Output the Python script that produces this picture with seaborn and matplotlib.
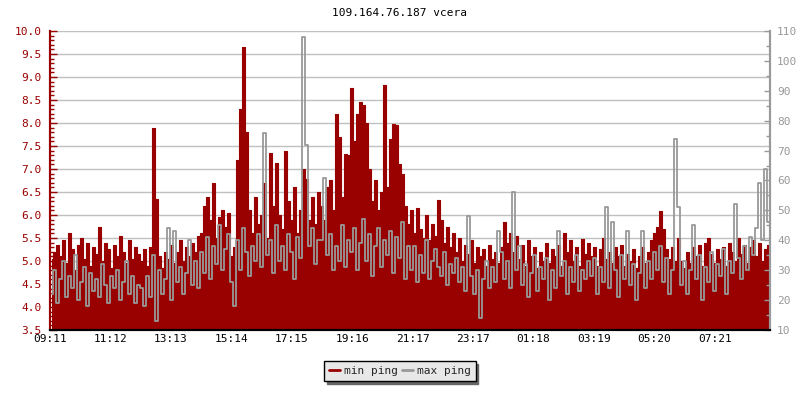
import numpy as np
import pandas as pd
import matplotlib
matplotlib.use("Agg")
import matplotlib.pyplot as plt
from matplotlib.lines import Line2D
from matplotlib.ticker import MultipleLocator, FormatStrFormatter
import seaborn as sns

title = "109.164.76.187 vcera"
start_label = "09:11"
sample_minutes = 6
tick_labels = ["09:11", "11:12", "13:13", "15:14", "17:15", "19:16",
               "21:17", "23:17", "01:18", "03:19", "05:20", "07:21"]

# min ping (left axis, ms)
min_ping = [
    5.05, 5.20, 5.35, 5.10, 5.45, 4.95, 5.60, 5.25, 4.80, 5.35, 5.50, 5.05, 5.40, 4.90, 5.30,
    5.15, 5.75, 5.00, 5.40, 5.25, 4.85, 5.35, 5.10, 5.55, 5.20, 4.95, 5.45, 5.05, 5.30, 5.15,
    5.00, 5.25, 4.90, 5.30, 7.90, 6.35, 5.10, 4.85, 5.20, 5.05, 5.35, 4.95, 5.20, 5.45, 5.00,
    5.30, 5.10, 5.40, 5.20, 5.55, 5.60, 6.20, 6.40, 5.90, 6.70, 5.50, 5.95, 6.10, 5.75, 6.05,
    5.10, 5.30, 7.20, 8.30, 9.65, 7.80, 6.10, 5.60, 6.40, 5.80, 6.00, 6.70, 5.50, 7.34, 6.20,
    7.13, 6.00, 5.70, 7.39, 6.30, 5.90, 6.60, 5.60, 6.10, 7.00, 6.78, 5.90, 6.40, 5.80, 6.50,
    6.20, 5.90, 6.60, 6.75, 6.10, 8.20, 7.70, 6.40, 7.33, 7.30, 8.76, 7.60, 8.20, 8.45, 8.40,
    8.00, 7.00, 6.30, 6.75, 6.10, 6.50, 8.83, 6.60, 7.65, 7.98, 7.95, 7.10, 6.90, 6.20, 5.80,
    6.10, 5.60, 6.15, 5.70, 5.50, 6.00, 5.45, 5.80, 5.55, 6.32, 5.90, 5.40, 5.75, 5.30, 5.60,
    5.20, 5.50, 5.00, 5.35, 5.15, 5.45, 4.95, 5.30, 5.10, 5.25, 4.90, 5.35, 5.05, 5.20, 4.95,
    5.30, 5.85, 5.40, 5.60, 5.20, 5.55, 5.05, 5.35, 4.90, 5.45, 5.10, 5.30, 4.85, 5.20, 5.00,
    5.40, 4.95, 5.25, 5.10, 5.35, 4.90, 5.60, 5.20, 5.45, 5.00, 5.30, 4.90, 5.48, 5.15, 5.40,
    5.10, 5.30, 4.90, 5.25, 5.50, 5.05, 5.20, 4.95, 5.30, 5.10, 5.35, 4.90, 5.15, 5.00, 5.25,
    4.85, 5.10, 5.30, 4.95, 5.20, 5.45, 5.60, 5.75, 6.08, 5.70, 5.25, 5.05, 5.30, 5.00, 5.50,
    5.00, 4.85, 5.20, 4.95, 5.30, 5.10, 5.35, 4.90, 5.40, 5.50, 5.15, 4.95, 5.25, 5.05, 5.30,
    4.90, 5.40, 5.20, 5.00, 5.50, 5.15, 5.35, 4.95, 5.30, 5.45, 5.10, 5.40, 5.00, 5.25, 5.35,
]

# max ping (right axis, ms)
max_ping = [
    22, 30, 19, 27, 33, 21, 28, 24, 35, 20, 26, 31, 18, 29, 23,
    27, 21, 32, 25, 19, 28, 24, 30, 20, 26, 33, 22, 28, 19, 25,
    24, 18, 28, 21, 35, 13, 30, 22, 27, 44, 20, 43, 26, 31, 22,
    29, 40, 25, 33, 24, 36, 29, 41, 27, 38, 32, 45, 30, 37, 42,
    26, 18, 40, 30, 44, 36, 28, 38, 33, 42, 31, 76, 35, 40, 29,
    45, 33, 38, 30, 42, 36, 27, 41, 34, 108, 72, 38, 44, 32, 40,
    40, 61, 35, 42, 30, 38, 33, 45, 31, 40, 36, 44, 30, 39, 47,
    33, 42, 28, 38, 44, 31, 40, 35, 43, 29, 41, 34, 46, 27, 38,
    30, 38, 26, 35, 29, 40, 27, 33, 37, 31, 28, 36, 25, 32, 29,
    34, 26, 31, 23, 48, 28, 22, 30, 14, 27, 33, 24, 31, 26, 43,
    36, 27, 33, 24, 56, 30, 38, 25, 32, 21, 29, 35, 23, 31, 27,
    34, 20, 30, 24, 43, 28, 33, 22, 31, 26, 35, 23, 30, 27, 33,
    28, 34, 22, 31, 26, 51, 24, 46, 30, 21, 35, 27, 43, 25, 32,
    20, 29, 43, 24, 33, 27, 36, 30, 38, 26, 34, 22, 30, 74, 51,
    25, 33, 22, 30, 45, 27, 35, 20, 31, 26, 36, 23, 32, 28, 37,
    22, 33, 29, 52, 34, 27, 38, 30, 41, 35, 44, 59, 40, 64, 46,
]

RED = "#990000"
GRAY = "#999999"
GRID = "#c0c0c0"

sh, sm = map(int, start_label.split(":"))
start_min = sh * 60 + sm
minutes = np.arange(len(min_ping)) * sample_minutes + sample_minutes / 2
df = pd.DataFrame({"t": minutes, "min ping": min_ping, "max ping": max_ping})

tick_pos = [((int(l[:2]) * 60 + int(l[3:])) - start_min) % 1440 for l in tick_labels]

sns.set_theme(style="white")
plt.rcParams["font.family"] = ["DejaVu Sans Mono"]

fig = plt.figure(figsize=(8, 4), dpi=100)
ax1 = fig.add_axes([50 / 800, 70 / 400, 720 / 800, 299 / 400])
ax2 = ax1.twinx()

ax1.set_axisbelow(True)
ax1.grid(axis="y", which="major", color=GRID, lw=1)
ax1.fill_between(df["t"], 3.5, df["min ping"], step="mid", color=RED, lw=0, zorder=2)
sns.lineplot(data=df, x="t", y="min ping", ax=ax1, color=RED, lw=0.8,
             drawstyle="steps-mid", zorder=3)
sns.lineplot(data=df, x="t", y="max ping", ax=ax2, color=GRAY, lw=1.3,
             drawstyle="steps-mid")

ax1.set_xlim(0, 1440)
ax1.set_ylim(3.5, 10.0)
ax2.set_ylim(10, 110)

ax1.set_xticks(tick_pos)
ax1.set_xticklabels(tick_labels)
ax1.yaxis.set_major_locator(MultipleLocator(0.5))
ax1.yaxis.set_minor_locator(MultipleLocator(0.1))
ax1.yaxis.set_major_formatter(FormatStrFormatter("%.1f"))
ax2.yaxis.set_major_locator(MultipleLocator(10))
ax2.yaxis.set_minor_locator(MultipleLocator(5))

ax1.tick_params(axis="y", which="major", direction="in", length=5, width=1,
                color=RED, labelcolor=RED, labelsize=8, pad=6)
ax1.tick_params(axis="y", which="minor", direction="in", length=3, width=1, color=RED)
ax1.tick_params(axis="x", which="major", direction="in", length=5, width=1,
                color="black", labelcolor="black", labelsize=8, pad=3)
ax2.tick_params(axis="y", which="major", direction="in", length=4, width=1,
                color=GRAY, labelcolor=GRAY, labelsize=8, pad=5)
ax2.tick_params(axis="y", which="minor", direction="in", length=3, width=1, color=GRAY)

for ax in (ax1, ax2):
    ax.set_xlabel("")
    ax.set_ylabel("")
    ax.spines["top"].set_visible(False)
    ax.spines["left"].set_color(RED)
    ax.spines["left"].set_linewidth(1.5)
    ax.spines["right"].set_color(GRAY)
    ax.spines["right"].set_linewidth(1.5)
    ax.spines["bottom"].set_color("black")
    ax.spines["bottom"].set_linewidth(1.5)
ax2.grid(False)

fig.text(0.5, 1 - 13 / 400, title, ha="center", va="center", fontsize=8, color="black")

handles = [Line2D([], [], color=RED, lw=2), Line2D([], [], color=GRAY, lw=2)]
leg = fig.legend(handles, ["min ping", "max ping"], loc="center",
                 bbox_to_anchor=(0.5, 1 - 371 / 400), ncol=2, fontsize=8,
                 frameon=True, fancybox=False,
                 shadow={"color": "#666666", "alpha": 1.0},
                 handlelength=1.0, handletextpad=0.3, columnspacing=0.4,
                 borderpad=0.45, borderaxespad=0)
leg.get_frame().set_facecolor("#e8e8e8")
leg.get_frame().set_edgecolor("black")
leg.get_frame().set_linewidth(1.0)
leg.get_frame().set_alpha(1.0)

fig.savefig("out.png", dpi=100)
